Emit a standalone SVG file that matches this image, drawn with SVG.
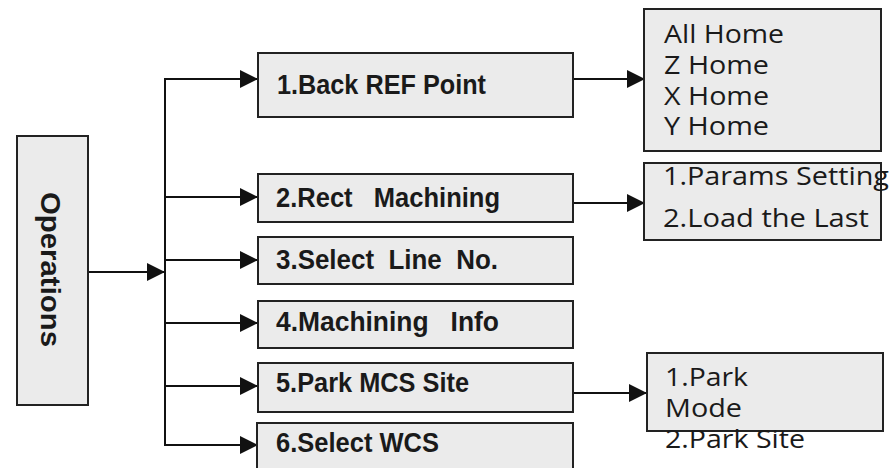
<svg xmlns="http://www.w3.org/2000/svg" width="890" height="468" viewBox="0 0 890 468">
<style>
.box{fill:#ebebeb;stroke:#222;stroke-width:2}
.lbl{font-family:"Liberation Sans",Arial,sans-serif;font-weight:bold;font-size:27px;fill:#1a1a1a}
.sub{font-family:"Open Sans","Noto Sans",sans-serif;font-size:25px;fill:#1a1a1a}
.ln{fill:none;stroke:#111;stroke-width:2}
</style>
<defs>
<marker id="ah" markerUnits="userSpaceOnUse" markerWidth="18" markerHeight="18" viewBox="0 0 16 16" refX="16" refY="8" orient="auto">
<path d="M0,0 L16,8 L0,16 Z" fill="#111"/>
</marker>
</defs>
<g id="connectors">
<line class="ln" x1="88" y1="272" x2="165" y2="272" marker-end="url(#ah)"/>
<line class="ln" x1="165" y1="78" x2="165" y2="446"/>
<line class="ln" x1="164" y1="79" x2="258" y2="79" marker-end="url(#ah)"/>
<line class="ln" x1="164" y1="197" x2="258" y2="197" marker-end="url(#ah)"/>
<line class="ln" x1="164" y1="260" x2="258" y2="260" marker-end="url(#ah)"/>
<line class="ln" x1="164" y1="323" x2="258" y2="323" marker-end="url(#ah)"/>
<line class="ln" x1="164" y1="386" x2="258" y2="386" marker-end="url(#ah)"/>
<line class="ln" x1="164" y1="445" x2="258" y2="445" marker-end="url(#ah)"/>
<line class="ln" x1="573" y1="79" x2="645" y2="79" marker-end="url(#ah)"/>
<line class="ln" x1="573" y1="203" x2="645" y2="203" marker-end="url(#ah)"/>
<line class="ln" x1="573" y1="393" x2="647" y2="393" marker-end="url(#ah)"/>
</g>
<g id="operations">
<rect class="box" x="17" y="136" width="71" height="269"/>
<text class="lbl" transform="translate(41,192) rotate(90)" x="0" y="0" font-size="37" textLength="155" lengthAdjust="spacingAndGlyphs">Operations</text>
</g>
<g id="n1">
<rect class="box" x="258" y="53" width="315" height="64"/>
<text class="lbl" x="277" y="94" textLength="209" lengthAdjust="spacingAndGlyphs">1.Back REF Point</text>
</g>
<g id="n2">
<rect class="box" x="258" y="174" width="315" height="48"/>
<text class="lbl" x="276" y="207" xml:space="preserve" textLength="224" lengthAdjust="spacingAndGlyphs">2.Rect   Machining</text>
</g>
<g id="n3">
<rect class="box" x="258" y="237" width="315" height="47"/>
<text class="lbl" x="276" y="269" xml:space="preserve" textLength="222" lengthAdjust="spacingAndGlyphs">3.Select  Line  No.</text>
</g>
<g id="n4">
<rect class="box" x="258" y="301" width="315" height="47"/>
<text class="lbl" x="276" y="331" xml:space="preserve" textLength="223" lengthAdjust="spacingAndGlyphs">4.Machining   Info</text>
</g>
<g id="n5">
<rect class="box" x="258" y="363" width="315" height="49"/>
<text class="lbl" x="276" y="392" textLength="193" lengthAdjust="spacingAndGlyphs">5.Park MCS Site</text>
</g>
<g id="n6">
<rect class="box" x="257" y="423" width="316" height="60"/>
<text class="lbl" x="276" y="452" textLength="163" lengthAdjust="spacingAndGlyphs">6.Select WCS</text>
</g>
<g id="home">
<rect class="box" x="644" y="9" width="237" height="142"/>
<text class="sub" x="664" y="43" textLength="120" lengthAdjust="spacingAndGlyphs">All Home</text>
<text class="sub" x="664" y="74" textLength="105" lengthAdjust="spacingAndGlyphs">Z Home</text>
<text class="sub" x="664" y="105" textLength="105" lengthAdjust="spacingAndGlyphs">X Home</text>
<text class="sub" x="664" y="135" textLength="105" lengthAdjust="spacingAndGlyphs">Y Home</text>
</g>
<g id="rect">
<rect class="box" x="644" y="163" width="237" height="77"/>
<text class="sub" x="663" y="185" textLength="226" lengthAdjust="spacingAndGlyphs">1.Params Setting</text>
<text class="sub" x="663" y="227" textLength="206" lengthAdjust="spacingAndGlyphs">2.Load the Last</text>
</g>
<g id="park">
<rect class="box" x="647" y="353" width="236" height="78"/>
<text class="sub" x="665" y="386" textLength="83" lengthAdjust="spacingAndGlyphs">1.Park</text>
<text class="sub" x="665" y="417" textLength="77" lengthAdjust="spacingAndGlyphs">Mode</text>
<text class="sub" x="665" y="448" textLength="140" lengthAdjust="spacingAndGlyphs">2.Park Site</text>
</g>
</svg>
